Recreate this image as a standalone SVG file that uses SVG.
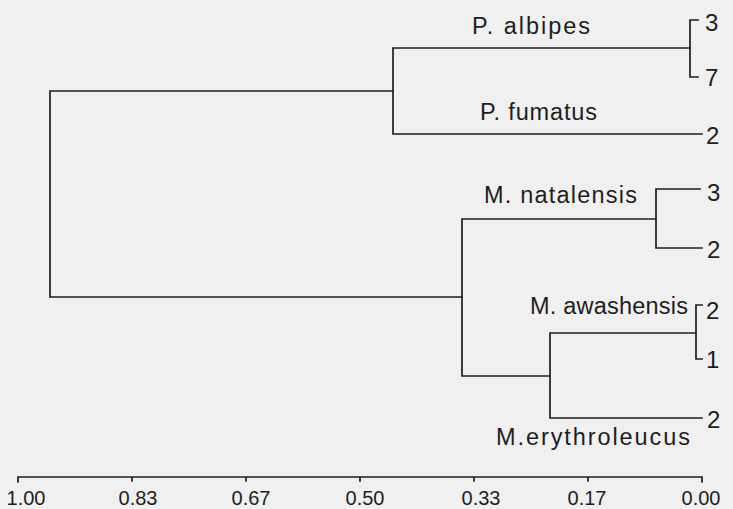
<svg xmlns="http://www.w3.org/2000/svg" width="733" height="509" viewBox="0 0 733 509">
<style>
.ln{fill:none;stroke:#1e1e1e;stroke-width:1.7;stroke-linecap:square}
.sp{font-family:"Liberation Sans",Arial,sans-serif;font-size:23.5px;fill:#1e1e1e}
.nm{font-family:"Liberation Sans",Arial,sans-serif;font-size:24px;fill:#1e1e1e}
.ax{font-family:"Liberation Sans",Arial,sans-serif;font-size:20px;fill:#1e1e1e;text-anchor:middle}
</style>
<rect width="733" height="509" fill="#f0f0f0"/>
<g id="connectors">
<path class="ln" d="M393,91 H50 V297 H462"/>
<path class="ln" d="M690,48 H393 V134 H702"/>
<path class="ln" d="M698,20 H690 V77 H698"/>
<path class="ln" d="M656,219 H462 V376 H550"/>
<path class="ln" d="M700,189 H656 V248 H702"/>
<path class="ln" d="M696,333 H550 V418 H702"/>
<path class="ln" d="M702,305 H696 V359 H702"/>
</g>
<g id="node-p-albipes"><text class="sp" x="472" y="34" textLength="118" lengthAdjust="spacing">P. albipes</text></g>
<g id="node-p-albipes-3"><text class="nm" x="705" y="31">3</text></g>
<g id="node-p-albipes-7"><text class="nm" x="705" y="86">7</text></g>
<g id="node-p-fumatus"><text class="sp" x="480" y="120" textLength="117" lengthAdjust="spacing">P. fumatus</text></g>
<g id="node-p-fumatus-2"><text class="nm" x="706" y="144">2</text></g>
<g id="node-m-natalensis"><text class="sp" x="484" y="203" textLength="153" lengthAdjust="spacing">M. natalensis</text></g>
<g id="node-m-natalensis-3"><text class="nm" x="707" y="201">3</text></g>
<g id="node-m-natalensis-2"><text class="nm" x="707" y="258">2</text></g>
<g id="node-m-awashensis"><text class="sp" x="530" y="314" textLength="158" lengthAdjust="spacing">M. awashensis</text></g>
<g id="node-m-awashensis-2"><text class="nm" x="706" y="319">2</text></g>
<g id="node-m-awashensis-1"><text class="nm" x="706" y="368">1</text></g>
<g id="node-m-erythroleucus"><text class="sp" x="496" y="445" textLength="194" lengthAdjust="spacing">M.erythroleucus</text></g>
<g id="node-m-erythroleucus-2"><text class="nm" x="707" y="428">2</text></g>
<g id="axis">
<path class="ln" d="M18,482 V477 H702 V482 M132,477 V481 M246,477 V481 M360,477 V481 M474,477 V481 M588,477 V481"/>
<text class="ax" x="26" y="505">1.00</text>
<text class="ax" x="138" y="505">0.83</text>
<text class="ax" x="251" y="505">0.67</text>
<text class="ax" x="365" y="505">0.50</text>
<text class="ax" x="481" y="505">0.33</text>
<text class="ax" x="587" y="505">0.17</text>
<text class="ax" x="701" y="505">0.00</text>
</g>
</svg>
